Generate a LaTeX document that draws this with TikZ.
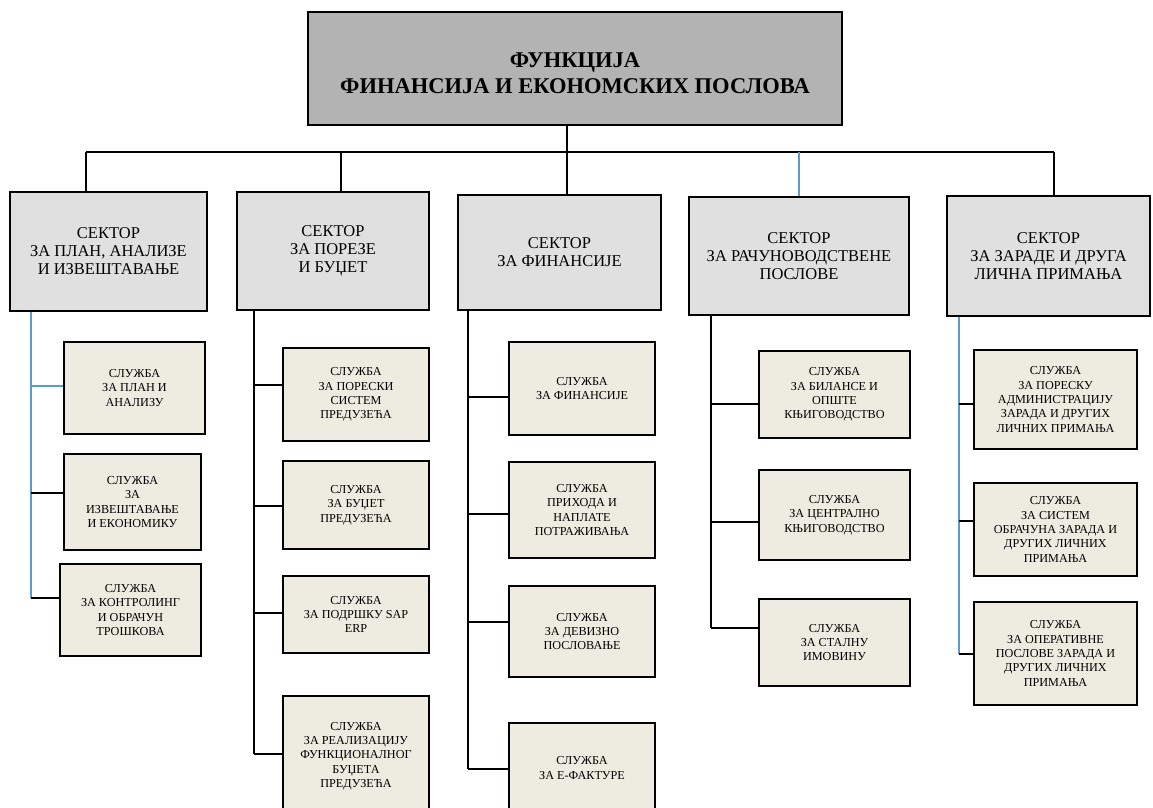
\documentclass[tikz,border=0pt]{standalone}
\usepackage{fontspec}
\setmainfont{Liberation Serif}
\definecolor{topfill}{RGB}{179,179,179}
\definecolor{secfill}{RGB}{224,224,224}
\definecolor{subfill}{RGB}{238,236,225}
\definecolor{bluel}{RGB}{91,155,213}
\tikzset{
  topbox/.style={draw=black, line width=1.3pt, fill=topfill, align=center, inner sep=0pt,
     font=\bfseries\fontsize{22.5}{26.5}\selectfont},
  secbox/.style={draw=black, line width=1.3pt, fill=secfill, align=center, inner sep=0pt,
     font=\fontsize{16.5}{18}\selectfont},
  subbox/.style={draw=black, line width=1.3pt, fill=subfill, align=center, inner sep=0pt,
     font=\fontsize{12.2}{14.3}\selectfont},
  conn/.style={draw=black, line width=1.1pt},
  bconn/.style={draw=bluel, line width=1.1pt},
}
\newcommand{\bx}[7]{% style, name, l, t, r, b, text
  \node[#1, minimum width={#5-#3}, minimum height={#6-#4}] (#2) at ({(#3+#5)/2},{(#4+#6)/2}) {#7};}
\begin{document}
\begin{tikzpicture}[x=1pt,y=-1pt]
\useasboundingbox (0,0) rectangle (1153,807);
\clip (0,0) rectangle (1153,807);
% top
\bx{topbox}{top}{308}{12}{842}{125}{\rule{0pt}{24pt}ФУНКЦИЈА\\ФИНАНСИЈА И ЕКОНОМСКИХ ПОСЛОВА}
% sectors
\bx{secbox}{s1}{10}{192}{207}{311}{СЕКТОР\\ЗА ПЛАН, АНАЛИЗЕ\\И ИЗВЕШТАВАЊЕ}
\bx{secbox}{s2}{237}{192}{429}{310}{СЕКТОР\\ЗА ПОРЕЗЕ\\И БУЏЕТ}
\bx{secbox}{s3}{458}{195}{661}{310}{СЕКТОР\\ЗА ФИНАНСИЈЕ}
\bx{secbox}{s4}{689}{197}{909}{315}{СЕКТОР\\ЗА РАЧУНОВОДСТВЕНЕ\\ПОСЛОВЕ}
\bx{secbox}{s5}{947}{196}{1150}{316}{СЕКТОР\\ЗА ЗАРАДЕ И ДРУГА\\ЛИЧНА ПРИМАЊА}
% bus
\coordinate (b1) at (86,152);
\coordinate (b2) at (341,152);
\coordinate (b3) at (567,152);
\coordinate (b4) at (799,152);
\coordinate (b5) at (1054,152);
\draw[conn] (b1) -- (b5);
\draw[conn] (top.south -| b3) -- (b3 |- s3.north);
\draw[conn] (b1) -- (b1 |- s1.north);
\draw[conn] (b2) -- (b2 |- s2.north);
\draw[bconn] (b4) -- (b4 |- s4.north);
\draw[conn] (b5) -- (b5 |- s5.north);
% sector 1 children
\bx{subbox}{a1}{64}{342}{205}{434}{СЛУЖБА\\ЗА ПЛАН И\\АНАЛИЗУ}
\bx{subbox}{a2}{64}{454}{201}{550}{СЛУЖБА\\ЗА\\ИЗВЕШТАВАЊЕ\\И ЕКОНОМИКУ}
\bx{subbox}{a3}{60}{564}{201}{656}{СЛУЖБА\\ЗА КОНТРОЛИНГ\\И ОБРАЧУН\\ТРОШКОВА}
\coordinate (v1) at (31,598);
\draw[bconn] (v1 |- s1.south) -- (v1);
\draw[bconn] (31,386) -- (a1.west |- 0,386);
\draw[conn] (31,493) -- (a2.west |- 0,493);
\draw[conn] (v1) -- (a3.west |- v1);
% sector 2 children
\bx{subbox}{c1}{283}{348}{429}{441}{СЛУЖБА\\ЗА ПОРЕСКИ\\СИСТЕМ\\ПРЕДУЗЕЋА}
\bx{subbox}{c2}{283}{461}{429}{549}{СЛУЖБА\\ЗА БУЏЕТ\\ПРЕДУЗЕЋА}
\bx{subbox}{c3}{283}{576}{429}{653}{СЛУЖБА\\ЗА ПОДРШКУ SAP\\ERP}
\bx{subbox}{c4}{283}{696}{429}{816}{СЛУЖБА\\ЗА РЕАЛИЗАЦИЈУ\\ФУНКЦИОНАЛНОГ\\БУЏЕТА\\ПРЕДУЗЕЋА}
\coordinate (v2) at (254,754);
\draw[conn] (v2 |- s2.south) -- (v2);
\draw[conn] (254,385) -- (c1.west |- 0,385);
\draw[conn] (254,506) -- (c2.west |- 0,506);
\draw[conn] (254,613) -- (c3.west |- 0,613);
\draw[conn] (v2) -- (c4.west |- v2);
% sector 3 children
\bx{subbox}{d1}{509}{342}{655}{435}{СЛУЖБА\\ЗА ФИНАНСИЈЕ}
\bx{subbox}{d2}{509}{462}{655}{558}{СЛУЖБА\\ПРИХОДА И\\НАПЛАТЕ\\ПОТРАЖИВАЊА}
\bx{subbox}{d3}{509}{586}{655}{677}{СЛУЖБА\\ЗА ДЕВИЗНО\\ПОСЛОВАЊЕ}
\bx{subbox}{d4}{509}{723}{655}{813}{СЛУЖБА\\ЗА Е-ФАКТУРЕ}
\coordinate (v3) at (468,769);
\draw[conn] (v3 |- s3.south) -- (v3);
\draw[conn] (468,397) -- (d1.west |- 0,397);
\draw[conn] (468,514) -- (d2.west |- 0,514);
\draw[conn] (468,622) -- (d3.west |- 0,622);
\draw[conn] (v3) -- (d4.west |- v3);
% sector 4 children
\bx{subbox}{e1}{759}{351}{910}{438}{СЛУЖБА\\ЗА БИЛАНСЕ И\\ОПШТЕ\\КЊИГОВОДСТВО}
\bx{subbox}{e2}{759}{470}{910}{560}{СЛУЖБА\\ЗА ЦЕНТРАЛНО\\КЊИГОВОДСТВО}
\bx{subbox}{e3}{759}{599}{910}{686}{СЛУЖБА\\ЗА СТАЛНУ\\ИМОВИНУ}
\coordinate (v4) at (711,628);
\draw[conn] (v4 |- s4.south) -- (v4);
\draw[conn] (711,404) -- (e1.west |- 0,404);
\draw[conn] (711,522) -- (e2.west |- 0,522);
\draw[conn] (v4) -- (e3.west |- v4);
% sector 5 children
\bx{subbox}{f1}{974}{350}{1137}{449}{СЛУЖБА\\ЗА ПОРЕСКУ\\АДМИНИСТРАЦИЈУ\\ЗАРАДА И ДРУГИХ\\ЛИЧНИХ ПРИМАЊА}
\bx{subbox}{f2}{974}{483}{1137}{576}{СЛУЖБА\\ЗА СИСТЕМ\\ОБРАЧУНА ЗАРАДА И\\ДРУГИХ ЛИЧНИХ\\ПРИМАЊА}
\bx{subbox}{f3}{974}{602}{1137}{705}{СЛУЖБА\\ЗА ОПЕРАТИВНЕ\\ПОСЛОВЕ ЗАРАДА И\\ДРУГИХ ЛИЧНИХ\\ПРИМАЊА}
\coordinate (v5) at (959,654);
\draw[bconn] (v5 |- s5.south) -- (v5);
\draw[conn] (959,404) -- (f1.west |- 0,404);
\draw[conn] (959,521) -- (f2.west |- 0,521);
\draw[conn] (v5) -- (f3.west |- v5);
\end{tikzpicture}
\end{document}
